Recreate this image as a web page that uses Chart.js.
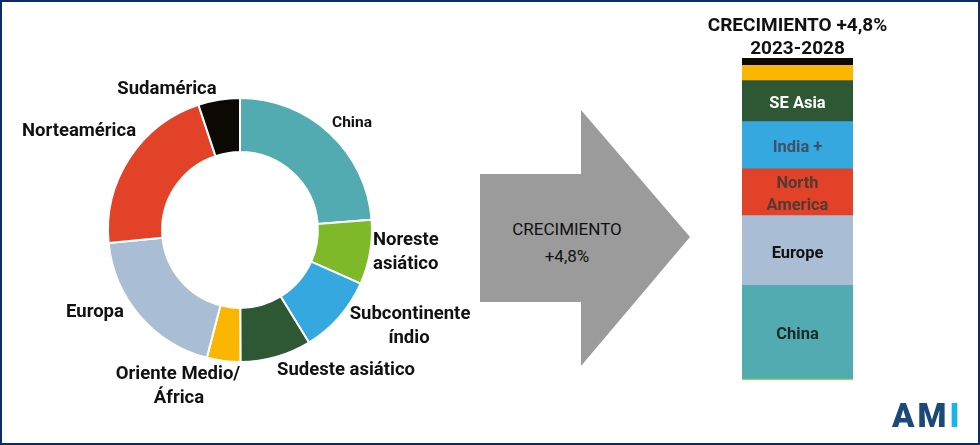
<!DOCTYPE html>
<html>
<head>
<meta charset="utf-8">
<script src="https://cdn.jsdelivr.net/npm/chart.js@4"></script>
<style>
  html, body { margin: 0; padding: 0; background: #fff; }
  #frame {
    position: relative; width: 980px; height: 445px; box-sizing: border-box;
    border: 2px solid #0d2b6b; overflow: hidden; background: #fff;
    font-family: Roboto, "Open Sans", sans-serif;
  }
  canvas { position: absolute; left: -2px; top: -2px; }
  #arrow {
    position: absolute; left: 478px; top: 108px; width: 210px; height: 256px;
    background: #9b9b9b;
    clip-path: polygon(0 64px, 101px 64px, 101px 0, 210px 127px, 101px 256px, 101px 192px, 0 192px);
  }
  #arrow span {
    position: absolute; left: 87px; transform: translateX(-50%);
    font-size: 17px; color: #111; white-space: nowrap;
  }
  #ami {
    position: absolute; left: 890px; top: 394px; font-size: 33px; font-weight: 900;
    letter-spacing: 3px; color: #1b4a7a;
  }
  #ami b { color: #1ab4e8; font-weight: 900; }
</style>
</head>
<body>
<div id="frame">
  <canvas id="donut" width="980" height="445"></canvas>
  <div id="arrow">
    <span style="top:109px">CRECIMIENTO</span>
    <span style="top:136px">+4,8%</span>
  </div>
  <canvas id="bar" width="980" height="445"></canvas>
  <div id="ami">AM<b>I</b></div>
</div>
<script>
// current market split (doughnut, clockwise from top)
const regions = ['China', 'Noreste asiático', 'Subcontinente índio', 'Sudeste asiático',
                 'Oriente Medio/África', 'Europa', 'Norteamérica', 'Sudamérica'];
const shares = [23.8, 7.9, 9.6, 8.7, 4.1, 19.4, 21.5, 5.1];
const regionColors = ['#52abb0', '#7db928', '#35a8e0', '#2e5834',
                      '#fbb700', '#a9bed4', '#e24328', '#0c0804'];

// growth split 2023-2028 (stacked bar, bottom to top)
const growthNames = ['NE Asia', 'China', 'Europe', 'North America', 'India +', 'SE Asia', 'MEA', 'S America'];
const growthShares = [0.3, 29.2, 21.7, 14.6, 14.7, 12.8, 4.7, 2.3];
const growthColors = ['#8fd460', '#52abb0', '#a9bed4', '#e24328', '#35a8e0', '#2e5834', '#fbb700', '#0c0804'];
const growthText = ['', 'China', 'Europe', 'North\nAmerica', 'India +', 'SE Asia', '', ''];
const growthTextColors = ['', '#1a2a2a', '#111111', '#523a33', '#3d5268', '#ffffff', '', ''];

const barTitle = ['CRECIMIENTO +4,8%', '2023-2028'];

/* ================= DOUGHNUT LABELS ================= */
// [x, y, align, text] per label line
const labelSpots = [
    [[352, 123, 'center', 'China']],
    [[373, 240, 'left', 'Noreste'], [373, 264, 'left', 'asiático']],
    [[410, 314, 'center', 'Subcontinente'], [409, 338, 'center', 'índio']],
    [[346, 370, 'center', 'Sudeste asiático']],
    [[178, 374, 'center', 'Oriente Medio/'], [179, 398, 'center', 'África']],
    [[95, 312, 'center', 'Europa']],
    [[79, 131, 'center', 'Norteamérica']],
    [[167, 89, 'center', 'Sudamérica']]
];

const donutLabels = {
    id: 'donutLabels',
    afterDraw(chart) {
        const ctx = chart.ctx;
        ctx.save();
        ctx.fillStyle = '#111';
        ctx.textBaseline = 'middle';
        labelSpots.forEach((lines, i) => {
            ctx.font = i === 0 ? 'bold 15.5px Roboto' : 'bold 18.5px Roboto';
            lines.forEach(([x, y, align, txt]) => {
                ctx.textAlign = align;
                ctx.fillText(txt, x, y);
            });
        });
        ctx.restore();
    }
};

new Chart(document.getElementById('donut'), {
    type: 'doughnut',
    data: {
        labels: regions,
        datasets: [{
            data: shares,
            backgroundColor: regionColors,
            borderColor: '#ffffff',
            borderWidth: 2
        }]
    },
    options: {
        responsive: false,
        animation: false,
        cutout: '59%',
        layout: { padding: { left: 107, top: 97, right: 607, bottom: 82 } },
        plugins: { legend: { display: false }, tooltip: { enabled: false } }
    },
    plugins: [donutLabels]
});

/* ================= GROWTH BAR ================= */
const barLabels = {
    id: 'barLabels',
    afterDraw(chart) {
        const ctx = chart.ctx;
        ctx.save();
        ctx.textAlign = 'center';
        ctx.textBaseline = 'middle';
        ctx.fillStyle = '#111';
        ctx.font = 'bold 19px Roboto';
        const cx = (chart.chartArea.left + chart.chartArea.right) / 2;
        ctx.fillText(barTitle[0], cx, 26);
        ctx.fillText(barTitle[1], cx, 49);

        ctx.font = 'bold 16.5px Roboto';
        growthText.forEach((txt, i) => {
            if (!txt) return;
            const el = chart.getDatasetMeta(i).data[0];
            const mid = (el.y + el.base) / 2 + 3;
            const lines = txt.split('\n');
            ctx.fillStyle = growthTextColors[i];
            lines.forEach((ln, k) => {
                ctx.fillText(ln, el.x, mid + (k - (lines.length - 1) / 2) * 22);
            });
        });
        ctx.restore();
    }
};

new Chart(document.getElementById('bar'), {
    type: 'bar',
    data: {
        labels: ['2023-2028'],
        datasets: growthNames.map((n, i) => ({
            label: n,
            data: [growthShares[i]],
            backgroundColor: growthColors[i],
            barPercentage: 1,
            categoryPercentage: 1
        }))
    },
    options: {
        responsive: false,
        animation: false,
        layout: { padding: { left: 742, top: 58, right: 127, bottom: 65 } },
        scales: {
            x: { stacked: true, display: false },
            y: { stacked: true, display: false, min: 0,
                 max: growthShares.reduce((a, b) => a + b, 0) }
        },
        plugins: { legend: { display: false }, tooltip: { enabled: false } }
    },
    plugins: [barLabels]
});
</script>
</body>
</html>
